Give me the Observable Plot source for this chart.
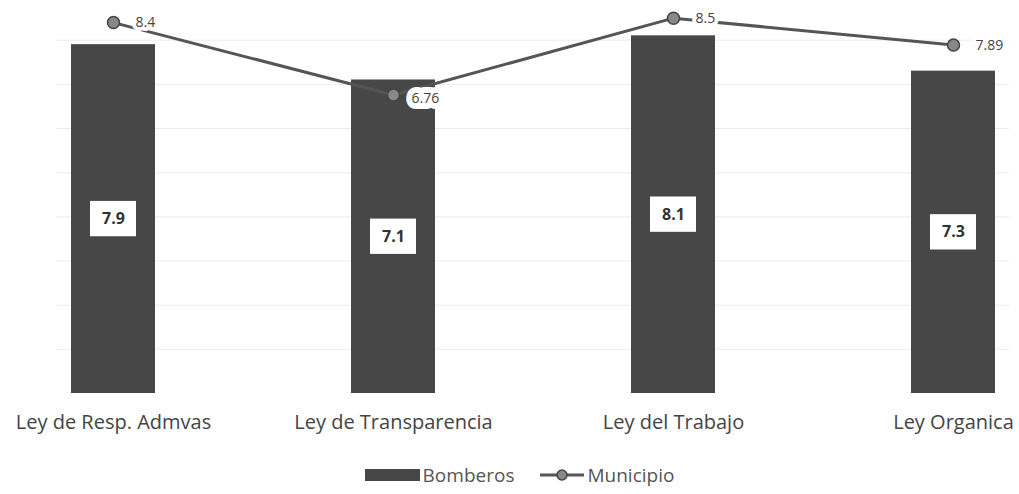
<!DOCTYPE html>
<html><head><meta charset="utf-8">
<script src="https://cdn.jsdelivr.net/npm/d3@7"></script>
<script src="https://cdn.jsdelivr.net/npm/@observablehq/plot@0.6"></script>
<style>
body{margin:0;background:#fff;font-family:"Open Sans",Lato,sans-serif;}
#legend{height:39px;display:flex;justify-content:center;align-items:center;gap:26px;font-size:19px;color:#555;padding-left:20px;}
.item{display:flex;align-items:center;gap:3px;}
</style></head>
<body>
<div id="chart"></div>
<div id="legend">
  <div class="item"><svg width="55" height="14"><rect x="0" y="1" width="55" height="12" fill="#474747"/></svg><span>Bomberos</span></div>
  <div class="item"><svg width="44" height="14"><line x1="0" y1="7" x2="44" y2="7" stroke="#555" stroke-width="3"/><circle cx="22" cy="7" r="5" fill="#888" stroke="#444" stroke-width="1.5"/></svg><span>Municipio</span></div>
</div>
<script>
const categories = ["Ley de Resp. Admvas", "Ley de Transparencia", "Ley del Trabajo", "Ley Organica"];
const bomberos = [7.9, 7.1, 8.1, 7.3];
const municipio = [8.4, 6.76, 8.5, 7.89];
const gridTicks = [1, 2, 3, 4, 5, 6, 7, 8];

const data = categories.map((c, i) => ({cat: c, b: bomberos[i], m: municipio[i]}));
const upper = data.filter((d, i) => i !== 1);
const lower = data.filter((d, i) => i === 1);

const chart = Plot.plot({
  width: 1019,
  height: 455,
  marginTop: 0,
  marginBottom: 62,
  marginLeft: 56,
  marginRight: 10,
  style: {fontFamily: "'Open Sans', Lato, sans-serif", background: "#fff"},
  x: {domain: categories, paddingInner: 0.7, paddingOuter: 0.05, label: null},
  y: {domain: [0, 8.9], axis: null},
  marks: [
    Plot.gridY(gridTicks, {stroke: "#ececec", strokeOpacity: 1}),
    Plot.barY(data, {x: "cat", y: "b", fill: "#474747"}),
    Plot.barY(data, {x: "cat", y1: d => d.b / 2 - 0.4, y2: d => d.b / 2 + 0.4, fill: "#fff", insetLeft: 19, insetRight: 19}),
    Plot.text(data, {x: "cat", y: d => d.b / 2, text: d => d.b.toFixed(1), fontSize: 16, fontWeight: "bold", fill: "#333"}),
    Plot.lineY(data, {x: "cat", y: "m", stroke: "#555", strokeWidth: 3}),
    Plot.dot(data, {x: "cat", y: "m", r: 6, fill: "#888", stroke: "#444", strokeWidth: 1.5}),
    Plot.text(upper, {x: "cat", y: "m", text: d => String(d.m), textAnchor: "start",
      dx: 22, fontSize: 14, fill: "#444", stroke: "#fff", strokeWidth: 8}),
    Plot.text(lower, {x: "cat", y: "m", text: d => String(d.m), textAnchor: "start",
      dx: 18, dy: 4, fontSize: 14, fill: "#444", stroke: "#fff", strokeWidth: 12}),
    Plot.axisX({tickSize: 0, tickPadding: 21, fontSize: 20, color: "#444", label: null})
  ]
});
document.getElementById("chart").appendChild(chart);
</script>
</body></html>
